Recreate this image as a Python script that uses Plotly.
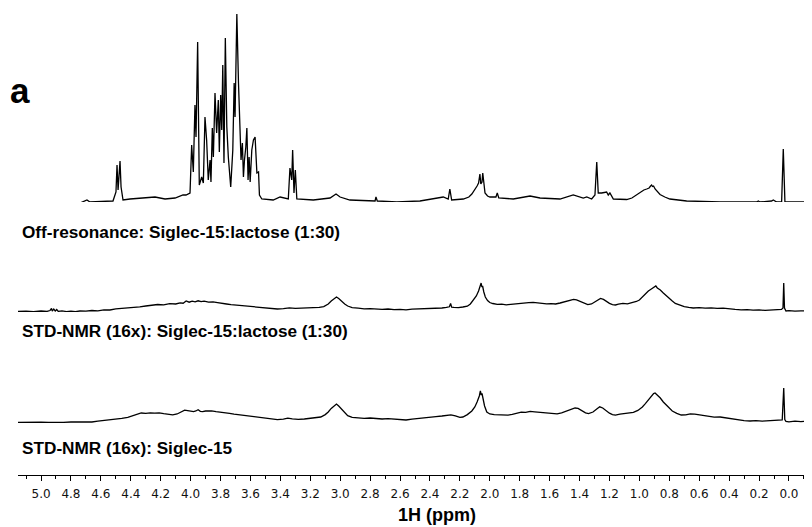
import plotly.graph_objects as go

# ---------------- data ----------------
# Off-resonance spectrum: chemical shift (ppm) and intensity (a.u.)
off_ppm = [5.154, 4.940, 4.739, 4.706, 4.693, 4.673, 4.519, 4.499, 4.492, 4.485, 4.479, 4.472, 4.465,
           4.452, 4.405, 4.305, 4.238, 4.171, 4.104, 4.051, 4.031, 4.004, 3.993, 3.982, 3.971, 3.964,
           3.953, 3.942, 3.926, 3.915, 3.904, 3.893, 3.882, 3.870, 3.864, 3.855, 3.848, 3.837, 3.826,
           3.815, 3.808, 3.799, 3.792, 3.785, 3.777, 3.768, 3.758, 3.748, 3.732, 3.718, 3.709, 3.703,
           3.691, 3.680, 3.669, 3.663, 3.654, 3.647, 3.640, 3.631, 3.624, 3.616, 3.609, 3.602, 3.591,
           3.580, 3.569, 3.557, 3.546, 3.540, 3.524, 3.448, 3.402, 3.380, 3.347, 3.336, 3.324, 3.318,
           3.309, 3.300, 3.290, 3.180, 3.068, 3.028, 3.001, 2.935, 2.767, 2.761, 2.752, 2.622, 2.467,
           2.311, 2.278, 2.267, 2.255, 2.177, 2.140, 2.120, 2.100, 2.085, 2.075, 2.066, 2.060, 2.052,
           2.047, 2.040, 2.032, 2.015, 1.999, 1.959,
           1.950, 1.940, 1.843, 1.731, 1.664, 1.531, 1.442, 1.375, 1.352, 1.319, 1.297, 1.285, 1.275,
           1.252, 1.219, 1.208, 1.197, 1.174, 1.085, 1.050, 1.020, 0.996, 0.970, 0.951, 0.935, 0.925,
           0.918, 0.912, 0.905, 0.895, 0.880, 0.862, 0.830, 0.796, 0.684,
           0.461, 0.216, 0.205, 0.194, 0.116, 0.105, 0.082, 0.049, 0.038, 0.027, -0.154]
off_int = [-2, -1, -1, 1, 2, 0, 1, 10, 37, 12, 30, 41, 15,
           2, 3, 4, 5, 3, 4, 7, 7, 9, 57, 30, 97, 65,
           160, 17, 25, 19, 85, 62, 22, 42, 20, 74, 45, 109, 69,
           102, 50, 107, 72, 137, 39, 164, 75, 45, 15, 52, 119, 85,
           188, 119, 79, 42, 59, 25, 42, 55, 74, 22, 45, 20, 52,
           62, 65, 29, 30, 7, 3, 2, 5, 4, 3, 34, 22, 52,
           9, 32, 3, 2, 4, 8, 5, 2, 1, 5, 1, 0, 1,
           5, 3, 13, 2, 3, 5, 8, 12, 16, 19, 28, 18, 20,
           29, 18, 9, 6, 5, 5,
           9, 4, 3, 6, 4, 3, 7, 4, 5, 3, 7, 40, 9,
           9, 10, 7, 9, 3, 2.5, 4, 7, 10, 12, 13, 14, 16,
           17, 15.5, 16, 13, 10, 7.5, 5, 3, 1,
           0, 0, 1, 0, 1, 2, 0, 0, 53, 0, 0]

# STD-NMR (16x) Siglec-15:lactose (1:30)
std_lac_ppm = [5.154, 5.10, 5.05, 5.00, 4.96, 4.94, 4.93, 4.925, 4.915, 4.905, 4.895, 4.885, 4.86,
               4.83, 4.80, 4.77, 4.74, 4.70, 4.66, 4.62, 4.58, 4.54, 4.50, 4.46, 4.42, 4.38, 4.34,
               4.30, 4.26, 4.22, 4.18, 4.14, 4.10, 4.07, 4.05, 4.03, 4.01, 3.99, 3.97, 3.95, 3.93,
               3.91, 3.88, 3.85, 3.82, 3.79, 3.76, 3.73, 3.70, 3.66, 3.62, 3.58, 3.54, 3.50, 3.46,
               3.42, 3.38, 3.34, 3.30, 3.26, 3.22, 3.18, 3.14, 3.11, 3.08, 3.06, 3.04, 3.025, 3.01,
               2.99, 2.97, 2.95, 2.92, 2.88, 2.84, 2.80, 2.76, 2.72, 2.68, 2.64, 2.60, 2.56, 2.52,
               2.48, 2.44, 2.40, 2.36, 2.32, 2.29, 2.27, 2.262, 2.255, 2.24, 2.21, 2.18, 2.15, 2.13,
               2.11, 2.09, 2.075, 2.065, 2.058, 2.053, 2.048, 2.04, 2.03, 2.015, 2.00, 1.98, 1.95,
               1.92, 1.89, 1.86, 1.83, 1.80, 1.77, 1.74, 1.71, 1.68, 1.65, 1.62, 1.59, 1.56, 1.53,
               1.50, 1.47, 1.44, 1.42, 1.40, 1.37, 1.345, 1.32, 1.30, 1.28, 1.26, 1.24, 1.22, 1.20,
               1.18, 1.16, 1.14, 1.11, 1.08, 1.05, 1.02, 1.00, 0.98, 0.96, 0.94, 0.92, 0.90, 0.89,
               0.88, 0.86, 0.84, 0.82, 0.80, 0.78, 0.76, 0.73, 0.70, 0.67, 0.64, 0.60, 0.56, 0.52,
               0.48, 0.44, 0.40, 0.36, 0.32, 0.28, 0.24, 0.20, 0.16, 0.12, 0.08, 0.05, 0.04, 0.035,
               0.03, 0.02, 0.00, -0.04, -0.08, -0.12, -0.154]
std_lac_int = [0.5, 0.8, 0.3, 1.0, 0.6, 1.5, 3.5, 0.8, 3.0, 1.0, 2.5, 0.6, 1.2,
               0.4, 0.9, 0.3, 1.0, 0.8, 1.5, 1.2, 2.2, 2.0, 3.2, 3.6, 4.2, 5.0, 5.2,
               6.0, 6.6, 7.5, 7.2, 8.3, 8.0, 9.2, 8.8, 11.0, 9.8, 10.8, 10.2, 11.2, 10.4,
               10.8, 9.8, 10.2, 9.4, 9.0, 8.0, 7.4, 7.0, 6.0, 5.6, 4.8, 4.6, 3.8, 3.6,
               3.0, 3.4, 4.2, 3.6, 3.8, 3.6, 4.2, 4.6, 5.4, 8.0, 11.0, 13.5, 15.0, 13.5,
               10.5, 8.0, 6.0, 4.4, 3.8, 3.2, 3.4, 2.8, 2.6, 3.0, 2.4, 2.6, 2.2, 2.8,
               3.0, 3.4, 3.2, 3.8, 4.0, 4.6, 5.2, 8.5, 4.8, 4.6, 4.4, 5.0, 5.8, 8.0,
               11.5, 16.0, 21.0, 26.0, 29.0, 25.0, 26.0, 20.0, 15.0, 11.5, 9.5, 8.5, 7.6,
               7.8, 7.2, 7.6, 8.2, 8.6, 8.8, 9.4, 9.6, 9.0, 8.8, 8.2, 8.4, 8.0, 9.0,
               10.2, 11.6, 12.6, 12.2, 11.0, 9.0, 7.4, 8.0, 10.0, 12.4, 13.6, 12.6, 10.4, 8.6,
               7.4, 7.0, 7.8, 8.6, 8.2, 9.0, 10.5, 12.0, 15.0, 18.5, 21.0, 23.0, 25.5, 26.0,
               24.0, 22.0, 19.0, 16.0, 13.5, 11.0, 8.6, 6.6, 5.4, 4.6, 4.0, 4.4, 3.8, 4.2,
               3.6, 3.8, 3.0, 2.6, 2.2, 2.4, 1.8, 2.2, 1.6, 2.0, 2.4, 2.6, 4.0, 29.0,
               4.0, 1.0, 1.4, 0.8, 1.2, 0.8, 1.0]

# STD-NMR (16x) Siglec-15
std_ppm = [5.154, 5.10, 5.05, 5.00, 4.95, 4.90, 4.85, 4.80, 4.75, 4.70, 4.66, 4.62, 4.58, 4.54,
           4.50, 4.46, 4.42, 4.39, 4.36, 4.33, 4.30, 4.27, 4.24, 4.21, 4.18, 4.15, 4.12, 4.09,
           4.06, 4.04, 4.02, 4.00, 3.98, 3.965, 3.95, 3.935, 3.92, 3.90, 3.88, 3.86, 3.83, 3.80,
           3.77, 3.74, 3.71, 3.68, 3.65, 3.62, 3.58, 3.54, 3.50, 3.46, 3.42, 3.38, 3.35, 3.32,
           3.28, 3.24, 3.20, 3.16, 3.13, 3.10, 3.08, 3.06, 3.04, 3.025, 3.01, 2.99, 2.97, 2.95,
           2.92, 2.88, 2.84, 2.80, 2.76, 2.72, 2.68, 2.64, 2.60, 2.56, 2.52, 2.48, 2.44, 2.40,
           2.36, 2.32, 2.29, 2.26, 2.23, 2.20, 2.18, 2.15, 2.12, 2.10, 2.085, 2.07, 2.063, 2.057,
           2.052, 2.045, 2.035, 2.02, 2.00, 1.97, 1.94, 1.91, 1.88, 1.85, 1.82, 1.79, 1.76, 1.73,
           1.70, 1.67, 1.64, 1.61, 1.58, 1.55, 1.52, 1.49, 1.46, 1.43, 1.41, 1.39, 1.36, 1.34,
           1.31, 1.285, 1.265, 1.245, 1.22, 1.20, 1.18, 1.16, 1.13, 1.10, 1.07, 1.04, 1.01, 0.98,
           0.96, 0.94, 0.92, 0.905, 0.895, 0.88, 0.86, 0.84, 0.82, 0.80, 0.78, 0.75, 0.72, 0.69,
           0.66, 0.63, 0.60, 0.57, 0.54, 0.50, 0.46, 0.42, 0.38, 0.34, 0.30, 0.26, 0.22, 0.18,
           0.14, 0.10, 0.06, 0.045, 0.035, 0.028, 0.02, 0.00, -0.04, -0.08, -0.12, -0.154]
std_int = [0.5, 0.8, 0.4, 0.9, 0.6, 1.0, 0.7, 1.0, 0.8, 1.2, 1.0, 1.8, 2.4, 3.0,
           3.4, 4.6, 5.6, 7.0, 8.6, 10.0, 9.6, 10.2, 9.8, 10.2, 9.4, 8.8, 8.2, 9.0,
           11.0, 12.8, 12.4, 11.6, 11.4, 12.0, 13.2, 11.6, 11.4, 12.0, 12.4, 12.2, 11.4, 11.0,
           10.4, 9.6, 8.8, 8.2, 7.4, 6.8, 6.4, 5.4, 4.8, 4.2, 3.4, 3.8, 4.8, 4.2,
           3.6, 4.0, 4.6, 5.0, 6.0, 8.4, 11.0, 14.6, 17.6, 19.0, 17.0, 13.5, 10.0, 7.4,
           5.6, 5.0, 4.6, 5.0, 4.4, 4.0, 4.4, 3.8, 3.4, 3.0, 3.8, 4.6, 5.2, 6.0,
           6.4, 7.0, 7.6, 8.2, 7.2, 5.6, 6.0, 8.4, 12.0, 16.0, 21.0, 27.0, 32.0, 28.0,
           29.5, 24.0, 17.0, 11.0, 9.0, 8.4, 8.2, 7.6, 7.8, 8.6, 9.6, 10.8, 10.6, 11.6,
           11.2, 10.8, 10.2, 9.6, 9.0, 9.2, 10.2, 11.8, 13.4, 15.0, 14.6, 12.6, 10.2, 9.4,
           11.0, 14.0, 16.2, 15.0, 12.0, 9.8, 8.4, 7.8, 8.8, 9.6, 9.8, 10.6, 12.6, 16.0,
           19.4, 23.0, 27.0, 29.4, 30.0, 28.0, 25.0, 21.0, 18.0, 15.0, 12.0, 9.6, 8.0, 8.2,
           9.2, 8.8, 8.0, 7.6, 6.6, 5.8, 6.0, 5.0, 3.8, 2.8, 2.4, 2.0, 2.4, 1.8,
           2.2, 2.0, 2.6, 3.2, 35.0, 3.5, 1.6, 1.2, 1.8, 1.4, 2.0, 1.8]

tick_vals = [5.0, 4.8, 4.6, 4.4, 4.2, 4.0, 3.8, 3.6, 3.4, 3.2, 3.0, 2.8, 2.6,
             2.4, 2.2, 2.0, 1.8, 1.6, 1.4, 1.2, 1.0, 0.8, 0.6, 0.4, 0.2, 0.0]
tick_text = ["%.1f" % v for v in tick_vals]

labels = ["Off-resonance: Siglec-15:lactose (1:30)",
          "STD-NMR (16x): Siglec-15:lactose (1:30)",
          "STD-NMR (16x): Siglec-15"]

# ---------------- figure ----------------
# The page body has an 8px margin, so the figure is 8px smaller each way.
PAGE = 8
W, H = 812 - PAGE, 527 - PAGE
PL, PR, PT, PB = 18, 812, 8, 475          # plot area in screen pixels
ML, MR, MT, MB = PL - PAGE, 0, PT - PAGE, (527 - PB)
plot_h = PB - PT
plot_w = PR - PL


def fy(py):
    return (PB - py) / plot_h


def fx(px):
    return (px - PL) / plot_w


line = dict(color="black", width=1.3)
fig = go.Figure()
fig.add_trace(go.Scatter(x=off_ppm, y=off_int, mode="lines", line=line, yaxis="y", hoverinfo="skip"))
fig.add_trace(go.Scatter(x=std_lac_ppm, y=std_lac_int, mode="lines", line=line, yaxis="y2", hoverinfo="skip"))
fig.add_trace(go.Scatter(x=std_ppm, y=std_int, mode="lines", line=line, yaxis="y3", hoverinfo="skip"))

fam = "Liberation Sans, Arial, sans-serif"
label_font = dict(family=fam, size=17.2, color="black")
annots = [
    dict(text="<b>a</b>", x=fx(20), y=fy(90), xanchor="center", yanchor="middle",
         font=dict(family=fam, size=35, color="black")),
    dict(text="<b>%s</b>" % labels[0], x=fx(20), y=fy(232), xanchor="left", yanchor="middle", font=label_font),
    dict(text="<b>%s</b>" % labels[1], x=fx(20), y=fy(331), xanchor="left", yanchor="middle", font=label_font),
    dict(text="<b>%s</b>" % labels[2], x=fx(20), y=fy(448), xanchor="left", yanchor="middle", font=label_font),
    dict(text="<b>1H (ppm)</b>", x=fx(437), y=fy(515), xanchor="center", yanchor="middle",
         font=dict(family=fam, size=18, color="black")),
]
for a in annots:
    a.update(xref="paper", yref="paper", showarrow=False)

fig.update_layout(
    width=W, height=H,
    margin=dict(l=ML, r=MR, t=MT, b=MB, pad=0),
    paper_bgcolor="white", plot_bgcolor="white",
    showlegend=False,
    annotations=annots,
    xaxis=dict(
        range=[5.154, -0.154], showgrid=False, zeroline=False,
        anchor="free", position=0,
        showline=True, linecolor="black", linewidth=1,
        ticks="outside", ticklen=5, tickwidth=1, tickcolor="black",
        tickmode="array", tickvals=tick_vals, ticktext=tick_text,
        ticklabelstandoff=3,
        tickfont=dict(family="DejaVu Sans, sans-serif", size=12, color="#111"),
        minor=dict(ticks="outside", ticklen=2.5, tickwidth=1, tickcolor="black",
                   tick0=0, dtick=0.1, showgrid=False),
    ),
    yaxis=dict(domain=[fy(202), 1.0], range=[0, 202 - PT], visible=False),
    yaxis2=dict(domain=[fy(312), fy(262)], range=[0, 50], visible=False),
    yaxis3=dict(domain=[fy(423), fy(373)], range=[0, 50], visible=False),
)

fig.write_html("out.html")
